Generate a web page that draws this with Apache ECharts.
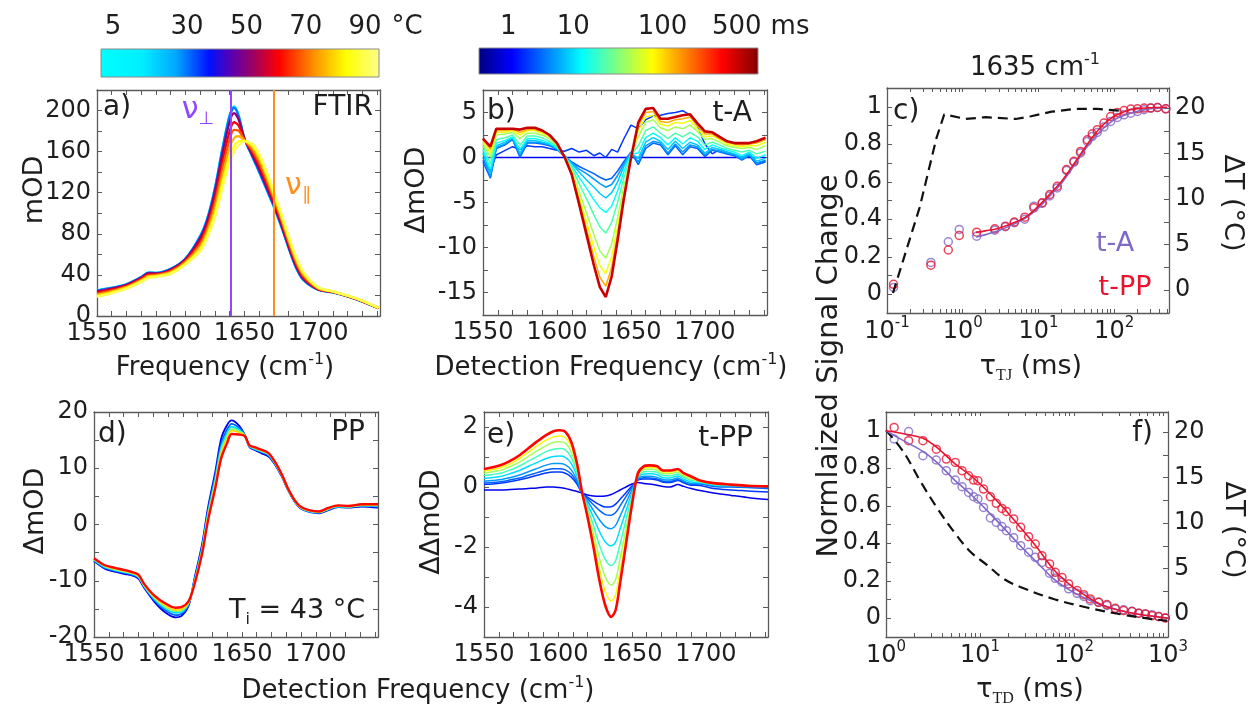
<!DOCTYPE html>
<html><head><meta charset="utf-8">
<script src="https://cdn.jsdelivr.net/npm/echarts@6.0.0/dist/echarts.min.js"></script>
<style>html,body{margin:0;padding:0;background:#fff}#c{width:1255px;height:711px}</style>
</head><body><div id="c"></div>
<script>
// ---------------- DATA ----------------
// a) FTIR, temperature series (mOD)
const ftirFreq = [1550,1560,1570,1580,1585,1590,1600,1610,1620,1625,1630,1635,1640,1643,1646,1650,1655,1660,1665,1670,1675,1680,1685,1690,1700,1710,1720,1730,1741];
const ftirTemps = [5,30,50,60,68,76,84,90];
const ftir_T5  = [25,27.5,31,38,42.5,42,46,56,78,96,125,163,196,204,196,173,156,140,123,106,87,66,47,35,25.5,23,19,14,7.5];
const ftir_T30 = [24.8,27.3,30.9,37.9,42.3,41.9,45.9,55.8,77.6,95.4,124.1,161.8,194.6,202.7,195.1,172.9,156.4,140.5,123.5,106.5,87.4,66.4,47.3,35.2,25.6,23,19,14,7.5];
const ftir_T50 = [24.0,26.7,30.3,37.3,41.7,41.4,45.3,55.1,75.8,93.2,120.7,157.2,189.1,197.4,191.5,172.6,157.8,142.7,125.7,108.3,89,67.8,48.7,36.2,25.9,23.2,19.2,14.2,7.6];
const ftir_T60 = [22.7,25.6,29.4,36.3,40.6,40.6,44.3,53.9,72.8,89.4,114.9,149.4,179.9,188.6,185.5,172,160.2,146.3,129.3,111.3,91.6,70.2,50.9,37.8,26.4,23.4,19.4,14.4,7.7];
const ftir_T68 = [21.6,24.6,28.7,35.4,39.6,39.9,43.4,52.9,70.2,86.1,109.9,142.7,172.1,181.1,180.4,171.4,162.2,149.4,132.4,113.8,93.8,72.2,52.7,39.2,26.8,23.5,19.5,14.5,7.8];
const ftir_T76 = [20.5,23.7,27.9,34.5,38.7,39.2,42.5,51.8,67.5,82.7,104.7,135.7,163.8,173.2,175,170.9,164.4,152.6,135.6,116.5,96.1,74.4,54.7,40.6,27.3,23.7,19.7,14.7,7.9];
const ftir_T84 = [19.3,22.7,27.1,33.7,37.7,38.5,41.7,50.8,65,79.5,99.8,129.1,156,165.7,169.9,170.4,166.4,155.7,138.7,119,98.3,76.4,56.6,42,27.7,23.9,19.9,14.9,7.9];
const ftir_T90 = [18.5,22,26.5,33,37,38,41,50,63,77,96,124,150,160,166,170,168,158,141,121,100,78,58,43,28,24,20,15,8];
const ftirCurves = [ftir_T5,ftir_T30,ftir_T50,ftir_T60,ftir_T68,ftir_T76,ftir_T84,ftir_T90];
const nuPerp = 1641, nuPar = 1670;

// b) t-A : rows = frequency, columns = delay time (ms)
const tA_freq = [1550,1555,1559,1565,1570,1575,1580,1585,1590,1595,1600,1605,1610,1615,1620,1625,1629,1633,1637,1641,1645,1650,1655,1660,1665,1670,1675,1680,1685,1690,1695,1700,1705,1710,1715,1720,1725,1730,1735,1741];
const tA_times = [1,2,3,5,8,13,22,40,70,130,500];
const tA_table = [
 [0,-0.3,-0.5,0.0,0.5,0.9,1.3,1.6,1.8,2.0,2.1],
 [0,-1.5,-2.3,-2.1,-1.8,-1.3,-0.7,0.0,0.5,0.9,1.2],
 [0,0.3,1.0,1.1,1.3,1.6,2.0,2.5,2.8,3.0,3.2],
 [0,0.8,1.4,1.5,1.7,1.9,2.2,2.6,2.8,3.0,3.2],
 [0,1.2,2.0,2.1,2.2,2.3,2.5,2.8,3.0,3.1,3.2],
 [0,0.9,0.0,0.2,0.5,0.9,1.4,2.1,2.5,2.8,3.1],
 [0,1.3,1.6,1.7,1.9,2.1,2.4,2.7,3.0,3.1,3.3],
 [0,1.2,1.6,1.7,1.9,2.1,2.4,2.7,3.0,3.1,3.3],
 [0,1.2,1.5,1.6,1.7,1.9,2.2,2.5,2.7,2.9,3.0],
 [0,1.0,1.3,1.4,1.5,1.6,1.8,2.1,2.3,2.4,2.5],
 [0,0.8,0.9,0.9,1.0,1.1,1.2,1.4,1.5,1.5,1.6],
 [0,0.7,0.2,0.2,0.2,0.2,0.2,0.1,0.1,0.1,0.1],
 [0,1.0,-0.5,-0.6,-0.7,-0.9,-1.1,-1.4,-1.6,-1.8,-1.9],
 [0,0.6,-1.0,-1.3,-1.6,-2.2,-2.9,-3.8,-4.4,-4.8,-5.2],
 [0,0.8,-1.4,-1.8,-2.5,-3.4,-4.6,-6.2,-7.2,-8.0,-8.6],
 [0,0.2,-1.8,-2.4,-3.3,-4.7,-6.4,-8.6,-10.0,-11.1,-12.0],
 [0,0.5,-2.2,-2.9,-4.0,-5.6,-7.7,-10.4,-12.0,-13.3,-14.4],
 [0,0.0,-2.5,-3.3,-4.5,-6.1,-8.4,-11.2,-12.9,-14.3,-15.5],
 [0,0.9,-2.3,-3.0,-3.9,-5.4,-7.2,-9.6,-11.0,-12.2,-13.2],
 [0,0.6,-1.5,-2.0,-2.7,-3.7,-5.0,-6.7,-7.7,-8.5,-9.2],
 [0,2.0,-0.5,-0.8,-1.1,-1.7,-2.4,-3.4,-3.9,-4.4,-4.8],
 [0,3.6,0.6,0.6,0.5,0.4,0.3,0.1,0.0,0.0,-0.1],
 [0,3.2,-0.8,-0.5,-0.1,0.5,1.3,2.3,3.0,3.5,3.9],
 [0,4.2,1.0,1.3,1.7,2.2,3.0,3.9,4.5,5.0,5.4],
 [0,4.6,1.6,1.8,2.2,2.7,3.4,4.2,4.7,5.1,5.5],
 [0,4.7,1.4,1.6,1.8,2.2,2.7,3.3,3.7,4.0,4.3],
 [0,4.9,0.3,0.5,0.9,1.4,2.1,3.0,3.5,3.9,4.3],
 [0,5.0,1.3,1.5,1.8,2.2,2.7,3.4,3.9,4.2,4.5],
 [0,5.2,0.3,0.6,1.0,1.5,2.3,3.2,3.8,4.3,4.7],
 [0,4.7,1.2,1.4,1.7,2.2,2.8,3.6,4.1,4.5,4.8],
 [0,3.5,1.0,1.2,1.4,1.8,2.3,2.9,3.2,3.5,3.8],
 [0,1.5,0.1,0.3,0.5,0.9,1.4,2.0,2.3,2.6,2.9],
 [0,0.4,0.8,0.9,1.1,1.4,1.7,2.1,2.4,2.6,2.8],
 [0,0.9,0.6,0.7,0.9,1.1,1.4,1.7,2.0,2.1,2.3],
 [0,0.6,0.4,0.5,0.6,0.8,1.0,1.3,1.5,1.7,1.8],
 [0,0.3,0.2,0.3,0.4,0.6,0.8,1.1,1.3,1.5,1.6],
 [0,0.0,-0.3,-0.2,0.0,0.2,0.6,1.0,1.2,1.4,1.6],
 [0,0.4,0.2,0.3,0.4,0.6,0.8,1.1,1.3,1.5,1.6],
 [0,-0.6,-0.8,-0.6,-0.4,-0.1,0.4,0.9,1.3,1.6,1.8],
 [0,-0.4,-0.5,-0.3,-0.1,0.3,0.7,1.3,1.7,2.0,2.2]
];

// d) PP (T_i = 43 C): rows = frequency, columns = delay time
const pp_freq = [1550,1557,1564,1571,1575,1580,1584,1591,1598,1605,1609,1614,1618,1623,1627,1632,1636,1640,1643,1648,1652,1655,1659,1663,1668,1672,1677,1681,1686,1690,1696,1702,1708,1715,1722,1731,1742];
const pp_times = [1,3,10,30,100,350];
const pp_table = [
 [-6.5,-6.4,-6.3,-6.2,-6.1,-6.0],
 [-7.8,-7.7,-7.5,-7.4,-7.3,-7.2],
 [-8.4,-8.2,-8.1,-8.0,-7.9,-7.7],
 [-8.8,-8.6,-8.5,-8.4,-8.3,-8.1],
 [-9.0,-8.9,-8.7,-8.6,-8.6,-8.4],
 [-9.6,-9.4,-9.3,-9.2,-9.1,-8.9],
 [-11.3,-11.1,-11.0,-10.9,-10.8,-10.6],
 [-13.8,-13.5,-13.3,-13.1,-13.0,-12.7],
 [-15.6,-15.2,-14.9,-14.6,-14.4,-14.0],
 [-16.5,-16.1,-15.7,-15.4,-15.2,-14.8],
 [-16.3,-15.9,-15.6,-15.3,-15.1,-14.7],
 [-14.4,-14.2,-14.0,-13.9,-13.8,-13.6],
 [-9.5,-9.8,-10.0,-10.2,-10.3,-10.6],
 [-3.6,-4.0,-4.4,-4.7,-4.9,-5.3],
 [2.9,2.3,1.9,1.5,1.2,0.6],
 [9.4,8.7,8.1,7.6,7.2,6.5],
 [15.3,14.4,13.7,13.1,12.7,11.8],
 [17.7,16.9,16.3,15.7,15.3,14.5],
 [18.5,17.9,17.4,17.0,16.7,16.1],
 [17.6,17.2,16.9,16.6,16.4,16.0],
 [15.9,15.9,15.8,15.8,15.8,15.7],
 [13.8,13.9,13.9,14.0,14.0,14.1],
 [13.2,13.3,13.4,13.5,13.6,13.7],
 [12.7,12.9,13.0,13.1,13.2,13.3],
 [12.1,12.3,12.4,12.5,12.6,12.7],
 [10.8,10.9,11.0,11.1,11.2,11.3],
 [8.5,8.6,8.7,8.75,8.8,8.9],
 [6.2,6.3,6.3,6.4,6.4,6.5],
 [3.9,4.0,4.0,4.1,4.1,4.2],
 [2.8,2.9,2.9,3.0,3.0,3.1],
 [2.2,2.3,2.3,2.4,2.4,2.5],
 [2.0,2.1,2.1,2.2,2.2,2.3],
 [2.5,2.6,2.7,2.7,2.8,2.9],
 [3.1,3.2,3.2,3.3,3.3,3.4],
 [3.0,3.1,3.1,3.2,3.2,3.3],
 [3.2,3.3,3.4,3.4,3.5,3.6],
 [3.0,3.2,3.3,3.4,3.5,3.6]
];

// e) t-PP : rows = frequency, columns = delay time
const tPP_freq = [1550,1556,1562,1568,1574,1580,1586,1592,1597,1601,1605,1609,1613,1616,1620,1624,1628,1632,1636,1639,1642,1646,1650,1654,1658,1662,1667,1671,1676,1681,1685,1690,1696,1705,1717,1728,1742];
const tPP_times = [1,2,3,5,10,20,40,80,350];
const tPP_table = [
 [-0.1,0.09,0.13,0.19,0.29,0.38,0.46,0.53,0.6],
 [-0.1,0.1,0.15,0.22,0.32,0.42,0.51,0.58,0.66],
 [-0.1,0.13,0.18,0.25,0.36,0.47,0.57,0.66,0.74],
 [-0.08,0.18,0.24,0.32,0.45,0.57,0.69,0.78,0.88],
 [-0.07,0.24,0.3,0.4,0.55,0.7,0.83,0.95,1.06],
 [-0.05,0.31,0.39,0.51,0.69,0.86,1.02,1.16,1.29],
 [-0.03,0.39,0.48,0.62,0.82,1.02,1.21,1.37,1.52],
 [0,0.47,0.57,0.73,0.95,1.18,1.38,1.56,1.73],
 [0,0.5,0.61,0.78,1.02,1.26,1.49,1.67,1.86],
 [-0.02,0.5,0.61,0.78,1.03,1.28,1.51,1.7,1.89],
 [-0.05,0.46,0.57,0.74,0.99,1.24,1.46,1.65,1.84],
 [-0.1,0.33,0.43,0.57,0.78,0.99,1.18,1.34,1.5],
 [-0.15,0.09,0.15,0.23,0.35,0.46,0.57,0.66,0.75],
 [-0.2,-0.19,-0.18,-0.17,-0.16,-0.14,-0.13,-0.11,-0.1],
 [-0.27,-0.34,-0.39,-0.47,-0.58,-0.69,-0.81,-0.91,-1.0],
 [-0.3,-0.47,-0.59,-0.78,-1.01,-1.29,-1.56,-1.78,-2.0],
 [-0.31,-0.59,-0.78,-1.09,-1.48,-1.93,-2.37,-2.74,-3.1],
 [-0.3,-0.67,-0.92,-1.32,-1.83,-2.42,-3.0,-3.48,-3.95],
 [-0.25,-0.66,-0.94,-1.39,-1.96,-2.62,-3.27,-3.8,-4.33],
 [-0.18,-0.57,-0.85,-1.28,-1.83,-2.45,-3.08,-3.59,-4.1],
 [-0.1,-0.41,-0.63,-0.97,-1.4,-1.9,-2.39,-2.8,-3.2],
 [0,-0.19,-0.32,-0.53,-0.8,-1.1,-1.41,-1.65,-1.9],
 [0.1,0.03,-0.02,-0.1,-0.19,-0.31,-0.42,-0.51,-0.6],
 [0.15,0.23,0.25,0.28,0.32,0.35,0.39,0.42,0.45],
 [0.12,0.27,0.31,0.36,0.43,0.51,0.58,0.63,0.69],
 [0.1,0.27,0.3,0.36,0.44,0.52,0.6,0.66,0.72],
 [0.06,0.23,0.27,0.32,0.41,0.49,0.56,0.63,0.69],
 [0.02,0.16,0.19,0.24,0.31,0.38,0.44,0.5,0.55],
 [0,0.15,0.18,0.23,0.3,0.37,0.44,0.5,0.55],
 [0.08,0.22,0.25,0.3,0.37,0.43,0.5,0.55,0.6],
 [0.02,0.14,0.17,0.2,0.26,0.32,0.37,0.42,0.46],
 [-0.05,0.06,0.08,0.12,0.17,0.22,0.27,0.31,0.35],
 [-0.12,0.05,0.1,0.12,0.15,0.17,0.19,0.21,0.22],
 [-0.2,-0.05,0.02,0.05,0.07,0.09,0.11,0.12,0.13],
 [-0.28,-0.1,0.0,0.03,0.05,0.06,0.07,0.08,0.08],
 [-0.35,-0.13,-0.02,0.01,0.03,0.04,0.05,0.05,0.04],
 [-0.42,-0.17,-0.05,0.0,0.02,0.03,0.03,0.03,0.02]
];

// c) T-jump at 1635 cm-1
const cT  = [0.122,0.38,0.645,0.90,1.53,2.65,3.66,4.8,6.6,8.7,11.2,14.1,17.7,23.5,29.4,36,44.2,51.4,59.8,73.3,89.9,110,135,166,203,249,304,373,481];
const cA  = [0.036,0.17,0.28,0.346,0.31,0.342,0.36,0.382,0.40,0.47,0.485,0.524,0.567,0.66,0.704,0.754,0.815,0.842,0.863,0.892,0.922,0.943,0.957,0.966,0.975,0.984,0.993,0.996,0.989];
const cPP = [0.053,0.155,0.236,0.314,0.331,0.349,0.363,0.385,0.411,0.461,0.488,0.532,0.576,0.665,0.709,0.762,0.824,0.856,0.878,0.913,0.948,0.97,0.98,0.988,0.989,0.993,0.993,0.996,0.989];
const cFitT  = [1.5,2,3,5,7,10,15,20,30,40,50,70,100,150,200,300,500];
const cFitA  = [0.305,0.318,0.34,0.378,0.41,0.46,0.535,0.59,0.69,0.765,0.815,0.88,0.93,0.96,0.975,0.99,0.995];
const cFitPP = [0.33,0.338,0.352,0.385,0.415,0.47,0.545,0.6,0.7,0.775,0.83,0.9,0.95,0.98,0.99,0.995,0.997];
const cDashT = [0.12,0.27,0.45,0.57,1.1,2,5,8,15,30,60,120];
const cDashK = [-0.3,9.1,16.7,19.3,18.8,19.0,18.8,19.1,19.6,19.9,19.9,19.7];

// f) T-drop
const fT  = [1.22,1.74,2.47,3.43,4.38,5.46,6.44,7.57,8.55,9.5,10.9,12.9,14.9,17.1,19.1,22.8,27.1,32.9,38.7,45.6,55,63.2,74.5,87.7,108,127,149,183,224,275,337,414,487,574,676,795,936];
const fPP = [1.018,0.947,0.947,0.902,0.849,0.831,0.787,0.76,0.737,0.734,0.689,0.648,0.613,0.586,0.57,0.53,0.485,0.435,0.396,0.334,0.29,0.245,0.218,0.183,0.148,0.126,0.103,0.085,0.073,0.053,0.041,0.036,0.027,0.023,0.014,0.009,0.002];
const fA  = [0.956,0.996,0.867,0.844,0.787,0.737,0.702,0.671,0.648,0.636,0.591,0.535,0.511,0.489,0.467,0.43,0.387,0.352,0.325,0.298,0.24,0.213,0.192,0.157,0.133,0.116,0.094,0.085,0.068,0.05,0.045,0.037,0.027,0.023,0.019,0.009,0.002];
const fFitT  = [1,1.5,2.47,3.5,5.24,8,11.9,18,26.8,40,60.7,90,137,200,311,500,1000];
const fFitPP = [1.0,0.985,0.96,0.91,0.83,0.76,0.68,0.585,0.485,0.38,0.26,0.18,0.116,0.07,0.041,0.02,0.0];
const fFitA  = [1.0,0.95,0.89,0.83,0.742,0.66,0.574,0.48,0.387,0.3,0.21,0.15,0.103,0.07,0.041,0.02,0.0];
const fDashT = [1,1.54,2.32,3.48,5.24,7.9,11.9,17.8,26.8,60.7,137,311,700,977];
const fDashK = [20.2,17.8,14.6,11.7,9.1,6.85,5.4,3.9,3.0,1.67,0.74,0.0,-0.55,-0.7];

// colour-bar tick labels
const tempTicks = [5,30,50,70,90];
const timeTicks = [1,10,100,500];

// ---------------- STYLE / HELPERS ----------------
const FONT = 'DejaVu Sans';
const AXC = '#5a5a5a';
const TXC = '#1e1e1e';
const TICK = 24;
const PURPLE = '#9147ff', ORANGE = '#ff8f1f';
const MPURPLE = '#7f68c8', MRED = '#e8142f';

const tempStops = [[0,[0,255,255]],[0.15,[0,238,255]],[0.27,[0,168,255]],[0.39,[0,16,255]],[0.47,[90,0,176]],[0.55,[160,0,96]],[0.64,[255,0,0]],[0.77,[255,150,0]],[0.88,[255,255,0]],[1,[255,255,140]]];
const jetStops = [[0,[0,0,128]],[0.12,[0,0,255]],[0.37,[0,255,255]],[0.62,[255,255,0]],[0.87,[255,0,0]],[1,[128,0,0]]];
const jetTickFrac = [0.105,0.338,0.658,0.924];

function cmap(stops, f){
  f = Math.max(0, Math.min(1, f));
  for (let i = 0; i < stops.length-1; i++){
    const a = stops[i][0], b = stops[i+1][0];
    if (f <= b || i === stops.length-2){
      const u = Math.max(0, Math.min(1, (f-a)/(b-a)));
      const c = stops[i][1].map((v,k)=>Math.round(v + (stops[i+1][1][k]-v)*u));
      return 'rgb('+c.join(',')+')';
    }
  }
}
function tempFrac(T){ return 0.043 + (T-5)*0.01067; }
function timeFrac(t){
  const L = Math.log10(t), Ls = timeTicks.map(Math.log10);
  let i = 0;
  if (L >= Ls[Ls.length-1]) i = Ls.length-2; else if (L > Ls[0]) { while (L > Ls[i+1]) i++; }
  return Math.max(0, Math.min(1, jetTickFrac[i] + (L-Ls[i])*(jetTickFrac[i+1]-jetTickFrac[i])/(Ls[i+1]-Ls[i])));
}

const G = [
 {left:97,  top:90,  width:283, height:226},
 {left:483, top:90,  width:284, height:225},
 {left:887, top:88,  width:282, height:225},
 {left:94,  top:412, width:284, height:225},
 {left:484, top:412, width:284, height:225},
 {left:886, top:412, width:282, height:225}
];
const xAxes = [], yAxes = [], series = [];

function axisCommon(){
  return {
    axisLine:{show:true,onZero:false,lineStyle:{color:AXC,width:1.3}},
    axisTick:{show:true,inside:true,length:5,lineStyle:{color:AXC,width:1}},
    splitLine:{show:false}
  };
}
function labelStyle(extra){
  return Object.assign({show:true,color:TXC,fontFamily:FONT,fontSize:TICK,margin:6}, extra);
}
function addX(gi, scale, label, tickExtra){
  const common = axisCommon();
  if (tickExtra) Object.assign(common.axisTick, tickExtra);
  xAxes.push(Object.assign({gridIndex:gi, position:'bottom'}, scale, common, {axisLabel:labelStyle(label)}));
  const idx = xAxes.length-1;
  const common2 = axisCommon();
  if (tickExtra) Object.assign(common2.axisTick, tickExtra);
  xAxes.push(Object.assign({gridIndex:gi, position:'top'}, scale, common2, {axisLabel:{show:false}}));
  return idx;
}
function addY(gi, pos, scale, label){
  yAxes.push(Object.assign({gridIndex:gi, position:pos}, scale, axisCommon(), {axisLabel: label ? labelStyle(label) : {show:false}}));
  return yAxes.length-1;
}
const multOf = (v, m) => Math.abs(v/m - Math.round(v/m)) < 1e-6;
const freqScale = {type:'value', min:1550, max:1742, interval:10};
const freqLabel = {formatter: v => (multOf(v,50) && v <= 1700) ? String(Math.round(v)) : ''};
function logLabel(v){
  const L = Math.log10(v), e = Math.round(L);
  if (Math.abs(L-e) > 1e-6) return '';
  return '{b|10}{s|' + e + '}';
}
const logRich = {
  b:{fontSize:TICK, fontFamily:FONT, color:TXC, lineHeight:32},
  s:{fontSize:15, fontFamily:FONT, color:TXC, lineHeight:15, verticalAlign:'top'}
};
// log-axis tick positions (1..9 x 10^k) inside an extent
function logTicks(lo, hi){
  const out = [];
  for (let e = Math.floor(Math.log10(lo)); e <= Math.ceil(Math.log10(hi)); e++){
    for (let m = 1; m <= 9; m++){
      const v = +(m*Math.pow(10,e)).toPrecision(6);
      if (v >= lo - 1e-9 && v <= hi + 1e-9) out.push(v);
    }
  }
  return out;
}

function line(xi, yi, data, color, width, extra){
  return Object.assign({type:'line', xAxisIndex:xi, yAxisIndex:yi, data:data, symbol:'none', showSymbol:false,
    lineStyle:{color:color, width:width}, itemStyle:{color:color}, silent:true, animation:false}, extra||{});
}
function transpose(table){ return table[0].map((_,j)=>table.map(r=>r[j])); }

// ---------------- PANEL a ----------------
{
  const xi = addX(0, freqScale, freqLabel);
  const yi = addY(0, 'left', {type:'value', min:0, max:220, interval:20}, {formatter: v => (multOf(v,40) && v<=200) ? String(Math.round(v)) : ''});
  addY(0, 'right', {type:'value', min:0, max:220, interval:20}, null);
  ftirCurves.forEach((vals, i) => {
    const s = line(xi, yi, ftirFreq.map((f,j)=>[f, vals[j]]), cmap(tempStops, tempFrac(ftirTemps[i])), 2.3, {smooth:0.3});
    if (i === ftirCurves.length-1){
      s.markLine = {silent:true, symbol:['none','none'], label:{show:false}, animation:false,
        data:[{xAxis:nuPerp, lineStyle:{color:PURPLE, width:2, type:'solid'}},
              {xAxis:nuPar,  lineStyle:{color:ORANGE, width:2, type:'solid'}}]};
    }
    series.push(s);
  });
}
// ---------------- PANEL b ----------------
{
  const xi = addX(1, freqScale, freqLabel);
  const yi = addY(1, 'left', {type:'value', min:-17.5, max:7.5, interval:2.5}, {formatter: v => multOf(v,5) ? String(Math.round(v)) : ''});
  addY(1, 'right', {type:'value', min:-17.5, max:7.5, interval:2.5}, null);
  const cols = transpose(tA_table);
  cols.forEach((vals, i) => {
    const last = i === cols.length-1;
    series.push(line(xi, yi, tA_freq.map((f,j)=>[f, vals[j]]), cmap(jetStops, timeFrac(tA_times[i])), last ? 2.6 : 1.5));
  });
}
// ---------------- PANEL c ----------------
{
  const scale = {type:'log', logBase:10, min:0.1, max:530};
  const xi = addX(2, scale, {formatter:logLabel, rich:logRich, showMaxLabel:false, margin:3}, {customValues:logTicks(0.1, 530), length:4});
  const yi = addY(2, 'left', {type:'value', min:-0.1, max:1.1, interval:0.1},
    {formatter: v => { const r = Math.round(v*10); return (r%2===0 && r>=0 && r<=10) ? (r===10?'1':(r===0?'0':(r/10).toFixed(1))) : ''; }, margin:5});
  const yr = addY(2, 'right', {type:'value', min:-2.5, max:22.2, interval:2.5},
    {formatter: v => (multOf(v,5) && v>=0 && v<=20) ? String(Math.round(v)) : '', margin:6});
  series.push(line(xi, yr, cDashT.map((t,i)=>[t, cDashK[i]]), '#111', 2.2, {lineStyle:{color:'#111', width:2.2, type:[10,6]}}));
  series.push(line(xi, yi, cFitT.map((t,i)=>[t, cFitA[i]]), MPURPLE, 1.6, {smooth:0.3}));
  series.push(line(xi, yi, cFitT.map((t,i)=>[t, cFitPP[i]]), MRED, 1.6, {smooth:0.3}));
  const sc = (data, col) => ({type:'scatter', xAxisIndex:xi, yAxisIndex:yi, data:data, symbol:'circle', symbolSize:8,
     itemStyle:{color:'rgba(255,255,255,0)', borderColor:col, borderWidth:1.5}, silent:true, animation:false});
  series.push(sc(cT.map((t,i)=>[t, cA[i]]), MPURPLE));
  series.push(sc(cT.map((t,i)=>[t, cPP[i]]), MRED));
}
// ---------------- PANEL d ----------------
{
  const xi = addX(3, freqScale, freqLabel);
  const yi = addY(3, 'left', {type:'value', min:-20, max:20, interval:5}, {formatter: v => multOf(v,10) ? String(Math.round(v)) : ''});
  addY(3, 'right', {type:'value', min:-20, max:20, interval:5}, null);
  const cols = transpose(pp_table);
  cols.forEach((vals, i) => {
    series.push(line(xi, yi, pp_freq.map((f,j)=>[f, vals[j]]), cmap(jetStops, timeFrac(pp_times[i])), i === cols.length-1 ? 2.4 : 1.8, {smooth:0.3}));
  });
}
// ---------------- PANEL e ----------------
{
  const xi = addX(4, freqScale, freqLabel);
  const yi = addY(4, 'left', {type:'value', min:-5, max:2.5, interval:1}, {formatter: v => multOf(v,2) ? String(Math.round(v)) : ''});
  addY(4, 'right', {type:'value', min:-5, max:2.5, interval:1}, null);
  const cols = transpose(tPP_table);
  cols.forEach((vals, i) => {
    series.push(line(xi, yi, tPP_freq.map((f,j)=>[f, vals[j]]), cmap(jetStops, timeFrac(tPP_times[i])), i === cols.length-1 ? 2.6 : 1.5, {smooth:0.3}));
  });
}
// ---------------- PANEL f ----------------
{
  const scale = {type:'log', logBase:10, min:1, max:1000};
  const xi = addX(5, scale, {formatter:logLabel, rich:logRich, margin:3}, {customValues:logTicks(1, 1000), length:4});
  const yi = addY(5, 'left', {type:'value', min:-0.1, max:1.1, interval:0.1},
    {formatter: v => { const r = Math.round(v*10); return (r%2===0 && r>=0 && r<=10) ? (r===10?'1':(r===0?'0':(r/10).toFixed(1))) : ''; }, margin:5});
  const yr = addY(5, 'right', {type:'value', min:-2.5, max:22.2, interval:2.5},
    {formatter: v => (multOf(v,5) && v>=0 && v<=20) ? String(Math.round(v)) : '', margin:6});
  series.push(line(xi, yr, fDashT.map((t,i)=>[t, fDashK[i]]), '#111', 2.2, {smooth:0.35, lineStyle:{color:'#111', width:2.2, type:[10,6]}}));
  series.push(line(xi, yi, fFitT.map((t,i)=>[t, fFitA[i]]), MPURPLE, 1.6, {smooth:0.3}));
  series.push(line(xi, yi, fFitT.map((t,i)=>[t, fFitPP[i]]), MRED, 1.6, {smooth:0.3}));
  const sc = (data, col) => ({type:'scatter', xAxisIndex:xi, yAxisIndex:yi, data:data, symbol:'circle', symbolSize:8,
     itemStyle:{color:'rgba(255,255,255,0)', borderColor:col, borderWidth:1.5}, silent:true, animation:false});
  series.push(sc(fT.map((t,i)=>[t, fA[i]]), MPURPLE));
  series.push(sc(fT.map((t,i)=>[t, fPP[i]]), MRED));
}

// ---------------- GRAPHIC (colour bars, titles, annotations) ----------------
function T(x, y, text, o){
  o = o || {};
  return {type:'text', x:x, y:y, rotation:o.rot||0, silent:true, z:100,
    style:Object.assign({text:text, fill:o.fill||TXC, fontFamily:FONT, fontSize:o.size||26,
      align:o.align||'center', verticalAlign:'middle'}, o.rich ? {rich:o.rich} : {})};
}
function R(size, fill){
  return {
    a:{fontSize:size, fontFamily:FONT, fill:fill||TXC, lineHeight:size+6},
    s:{fontSize:Math.round(size*0.6), fontFamily:FONT, fill:fill||TXC, lineHeight:Math.round(size*0.6), verticalAlign:'top'},
    d:{fontSize:Math.round(size*0.6), fontFamily:FONT, fill:fill||TXC, lineHeight:Math.round(size*0.6), verticalAlign:'bottom'},
    ser:{fontSize:Math.round(size*0.58), fontFamily:'Liberation Serif', fill:fill||TXC, lineHeight:Math.round(size*0.58), verticalAlign:'bottom'}
  };
}
const cb1 = {x:101, y:49, w:278, h:28};
const cb2 = {x:479, y:48, w:279, h:26};
const graphic = [
  {type:'rect', silent:true, shape:{x:cb1.x, y:cb1.y, width:cb1.w, height:cb1.h},
   style:{fill:new echarts.graphic.LinearGradient(0,0,1,0, tempStops.map(s=>({offset:s[0], color:'rgb('+s[1].join(',')+')'}))), stroke:'#8a8a8a', lineWidth:1}},
  {type:'rect', silent:true, shape:{x:cb2.x, y:cb2.y, width:cb2.w, height:cb2.h},
   style:{fill:new echarts.graphic.LinearGradient(0,0,1,0, jetStops.map(s=>({offset:s[0], color:'rgb('+s[1].join(',')+')'}))), stroke:'#8a8a8a', lineWidth:1}}
];
tempTicks.forEach(t => graphic.push(T(cb1.x + cb1.w*tempFrac(t), 27, String(t), {size:26})));
graphic.push(T(407, 27, '°C', {size:26}));
timeTicks.forEach(t => graphic.push(T(cb2.x + cb2.w*timeFrac(t), 27, String(t), {size:26})));
graphic.push(T(790, 27, 'ms', {size:26}));

// panel a
graphic.push(T(103, 108, 'a)', {size:28, align:'left'}));
graphic.push(T(373, 108, 'FTIR', {size:28, align:'right'}));
graphic.push(T(198, 110, '{a|ν}{d|⊥}', {rich:R(30, PURPLE)}));
graphic.push(T(298, 186, '{a|ν}{d|∥}', {rich:R(30, ORANGE)}));
graphic.push(T(35, 190, 'mOD', {size:27, rot:Math.PI/2}));
graphic.push(T(225, 368, '{a|Frequency (cm}{s|-1}{a|)}', {rich:R(26)}));
// panel b
graphic.push(T(487, 112, 'b)', {size:28, align:'left'}));
graphic.push(T(752, 114, 't-A', {size:28, align:'right'}));
graphic.push(T(417, 190, 'ΔmOD', {size:27, rot:Math.PI/2}));
graphic.push(T(611, 368, '{a|Detection Frequency (cm}{s|-1}{a|)}', {rich:R(26)}));
// panel c
graphic.push(T(1035, 68, '{a|1635 cm}{s|-1}', {rich:R(26)}));
graphic.push(T(893, 112, 'c)', {size:28, align:'left'}));
graphic.push(T(1115, 244, 't-A', {size:27, fill:MPURPLE}));
graphic.push(T(1125, 288, 't-PP', {size:27, fill:MRED}));
graphic.push(T(1031, 367, '{a|τ}{ser|TJ}{a| (ms)}', {rich:R(27)}));
graphic.push(T(1232, 203, 'ΔT (°C)', {size:27, rot:-Math.PI/2}));
graphic.push(T(829, 366, 'Normlaized Signal Change', {size:29, rot:Math.PI/2}));
// panel d
graphic.push(T(98, 435, 'd)', {size:28, align:'left'}));
graphic.push(T(365, 433, 'PP', {size:28, align:'right'}));
graphic.push(T(365, 611, '{a|T}{d|i}{a| = 43 °C}', {rich:R(27), align:'right'}));
graphic.push(T(36, 511, 'ΔmOD', {size:27, rot:Math.PI/2}));
graphic.push(T(418, 691, '{a|Detection Frequency (cm}{s|-1}{a|)}', {rich:R(26)}));
// panel e
graphic.push(T(487, 436, 'e)', {size:28, align:'left'}));
graphic.push(T(753, 439, 't-PP', {size:28, align:'right'}));
graphic.push(T(432, 522, 'ΔΔmOD', {size:27, rot:Math.PI/2}));
// panel f
graphic.push(T(1153, 434, 'f)', {size:28, align:'right'}));
graphic.push(T(1233, 530, 'ΔT (°C)', {size:27, rot:-Math.PI/2}));
graphic.push(T(1030, 690, '{a|τ}{ser|TD}{a| (ms)}', {rich:R(27)}));

const chart = echarts.init(document.getElementById('c'), null, {renderer:'canvas'});
chart.setOption({
  animation:false,
  backgroundColor:'#ffffff',
  grid: G.map(g => Object.assign({containLabel:false, outerBoundsMode:'none'}, g)),
  xAxis: xAxes,
  yAxis: yAxes,
  series: series,
  graphic: graphic
});
</script></body></html>
